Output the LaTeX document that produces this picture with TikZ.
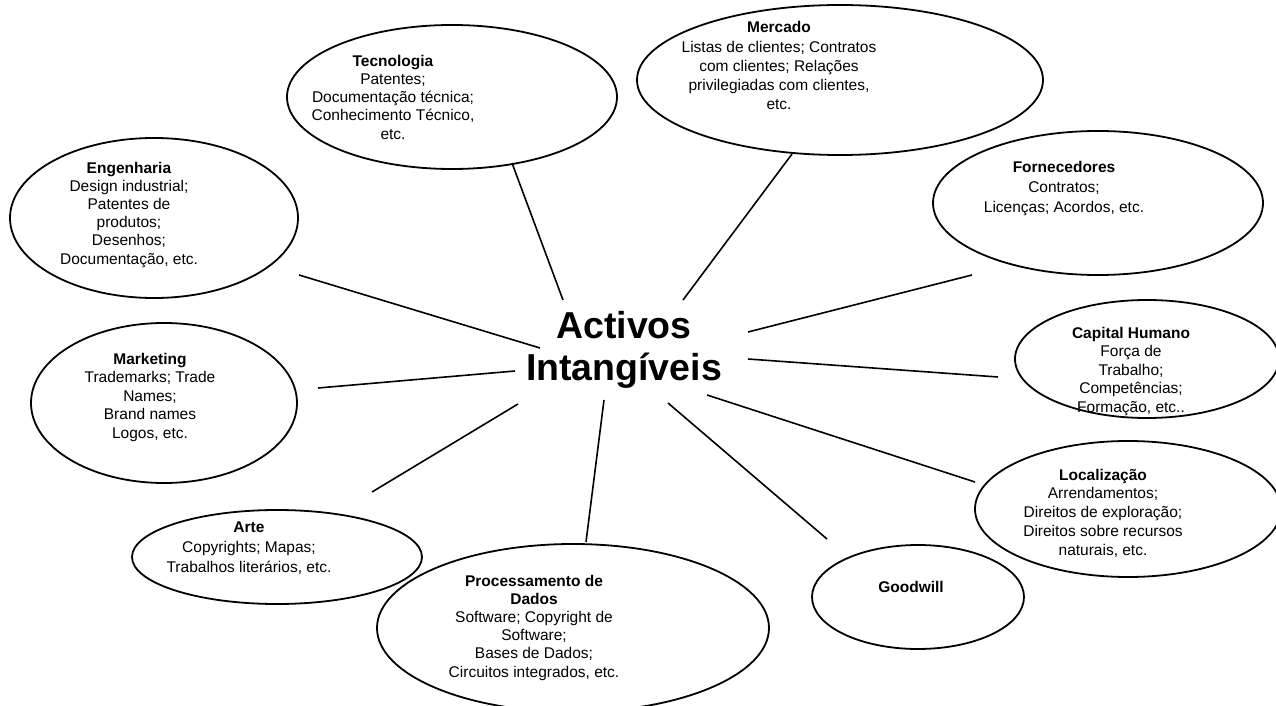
\documentclass[tikz,border=0pt]{standalone}
\usepackage{fontspec}
\setmainfont{Liberation Sans}
\usetikzlibrary{shapes.geometric}
\begin{document}
\begin{tikzpicture}[x=1bp,y=-1bp,
  ell/.style={draw, ellipse, line width=1.8bp, inner sep=0pt},
  txt/.style={align=center, inner sep=0pt, font=\fontsize{15.5bp}{#1bp}\selectfont},
  conn/.style={line width=1.6bp}]
\useasboundingbox (0,0) rectangle (1276,706);
\clip (0,0) rectangle (1276,706);
% ellipses
\node[ell, minimum width=330bp, minimum height=144bp] (tec) at (452,97) {};
\node[ell, minimum width=406bp, minimum height=150bp] (mer) at (840,80) {};
\node[ell, minimum width=288bp, minimum height=160bp] (eng) at (154,218) {};
\node[ell, minimum width=330bp, minimum height=144bp] (forn) at (1098,203) {};
\node[ell, minimum width=266bp, minimum height=160bp] (mkt) at (164,403) {};
\node[ell, minimum width=264bp, minimum height=118bp] (cap) at (1147,359) {};
\node[ell, minimum width=306bp, minimum height=136bp] (loc) at (1128,509) {};
\node[ell, minimum width=212bp, minimum height=104bp] (good) at (918,597) {};
\node[ell, minimum width=290bp, minimum height=94bp] (arte) at (277,557) {};
\node[ell, minimum width=392bp, minimum height=168bp] (proc) at (573,628) {};
% texts
\node[txt=18.25] (tect) at (393,98.9) {\strut\textbf{Tecnologia}\\Patentes;\\Documentação técnica;\\Conhecimento Técnico,\\etc.\strut};
\node[txt=19.25] (mert) at (779,67.6) {\strut\textbf{Mercado}\\Listas de clientes; Contratos\\com clientes; Relações\\privilegiadas com clientes,\\etc.\strut};
\node[txt=18.2] (engt) at (129,214.9) {\strut\textbf{Engenharia}\\Design industrial;\\Patentes de\\produtos;\\Desenhos;\\Documentação, etc.\strut};
\node[txt=20] (fornt) at (1064,189) {\strut\textbf{Fornecedores}\\Contratos;\\Licenças; Acordos, etc.\strut};
\node[txt=18.5] (mktt) at (150,397.3) {\strut\textbf{Marketing}\\Trademarks; Trade\\Names;\\Brand names\\Logos, etc.\strut};
\node[txt=18.5] (capt) at (1131,371.3) {\strut\textbf{Capital Humano}\\Força de\\Trabalho;\\Competências;\\Formação, etc..\strut};
\node[txt=18.75] (loct) at (1103,513.8) {\strut\textbf{Localização}\\Arrendamentos;\\Direitos de exploração;\\Direitos sobre recursos\\naturais, etc.\strut};
\node[txt=18.5] (goodt) at (911,588.3) {\strut\textbf{Goodwill}};
\node[txt=20] (artet) at (249,548) {\strut\textbf{Arte}\\Copyrights; Mapas;\\Trabalhos literários, etc.\strut};
\node[txt=18.2] (proct) at (534,627.9) {\strut\textbf{Processamento de}\\\textbf{Dados}\\Software; Copyright de\\Software;\\Bases de Dados;\\Circuitos integrados, etc.\strut};
% title
\node[font=\fontsize{37.5bp}{42bp}\selectfont\bfseries, align=center, inner sep=0pt] (title) at (624,350.6) {\strut Activos\\Intangíveis\strut};
% connector end points
\coordinate (c1a) at (563,300); \coordinate (c1b) at (512,163);
\coordinate (c2a) at (683,300); \coordinate (c2b) at (792,154);
\coordinate (c3a) at (748,332); \coordinate (c3b) at (972,275);
\coordinate (c4a) at (748,359); \coordinate (c4b) at (998,377);
\coordinate (c5a) at (707,395); \coordinate (c5b) at (975,482);
\coordinate (c6a) at (668,403); \coordinate (c6b) at (827,539);
\coordinate (c7a) at (604,400); \coordinate (c7b) at (586,542);
\coordinate (c8a) at (518,404); \coordinate (c8b) at (372,492);
\coordinate (c9a) at (515,371); \coordinate (c9b) at (318,388);
\coordinate (c10a) at (540,348); \coordinate (c10b) at (299,275);
\foreach \i in {1,...,10} {\draw[conn] (c\i a) -- (c\i b);}
\end{tikzpicture}
\end{document}
